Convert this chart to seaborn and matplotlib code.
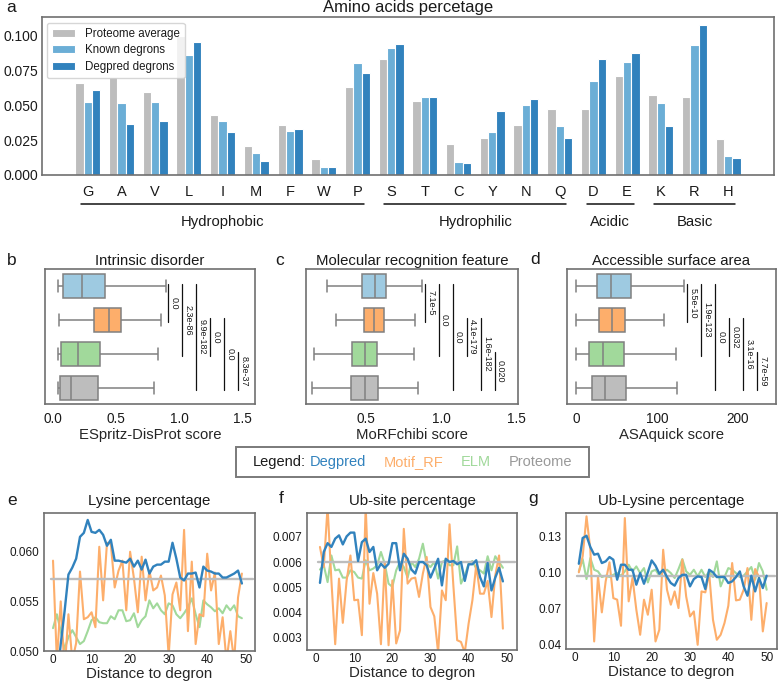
import numpy as np
import pandas as pd
import matplotlib
matplotlib.use('Agg')
import matplotlib.pyplot as plt
import matplotlib.transforms as mtransforms
from matplotlib.offsetbox import TextArea, HPacker, AnnotationBbox
from matplotlib.patches import Rectangle
from matplotlib.ticker import FormatStrFormatter
import seaborn as sns

# ---------------- data ----------------
aa = list("GAVLIMFWPSTCYNQDEKRH")
proteome_avg = [0.0655, 0.0698, 0.0593, 0.0993, 0.0429, 0.0207, 0.0360, 0.0114, 0.0626, 0.0829,
                0.0531, 0.0224, 0.0262, 0.0355, 0.0471, 0.0469, 0.0707, 0.0569, 0.0560, 0.0255]
known_degrons = [0.0524, 0.0517, 0.0520, 0.0860, 0.0388, 0.0157, 0.0312, 0.0055, 0.0798, 0.0905,
                 0.0560, 0.0093, 0.0307, 0.0502, 0.0348, 0.0671, 0.0807, 0.0514, 0.0929, 0.0136]
degpred_degrons = [0.0607, 0.0364, 0.0388, 0.0950, 0.0305, 0.0098, 0.0326, 0.0060, 0.0726, 0.0936,
                   0.0555, 0.0083, 0.0457, 0.0543, 0.0262, 0.0833, 0.0871, 0.0348, 0.1074, 0.0121]
bar_groups = ["Proteome average", "Known degrons", "Degpred degrons"]
bar_colors = ["#bdbdbd", "#6baed6", "#3182bd"]

aa_group_names = ["Hydrophobic", "Hydrophilic", "Acidic", "Basic"]
aa_group_first = ["G", "S", "D", "K"]
aa_group_last = ["P", "Q", "E", "H"]

methods = ["Degpred", "Motif_RF", "ELM", "Proteome"]
box_colors = ["#9ecae1", "#fdae6b", "#a1d99b", "#bdbdbd"]
text_colors = ["#3182bd", "#fdae6b", "#a1d99b", "#999999"]

# five-number summaries: whisker low, q1, median, q3, whisker high
disorder_stats = [[0.042, 0.077, 0.230, 0.407, 0.894],
                  [0.045, 0.323, 0.439, 0.534, 0.852],
                  [0.042, 0.063, 0.193, 0.368, 0.833],
                  [0.040, 0.055, 0.143, 0.352, 0.796]]
morf_stats = [[0.238, 0.476, 0.558, 0.633, 0.875],
              [0.300, 0.489, 0.556, 0.622, 0.827],
              [0.155, 0.409, 0.491, 0.573, 0.822],
              [0.138, 0.402, 0.493, 0.582, 0.845]]
asa_stats = [[0.4, 26.0, 43.0, 68.0, 134.0],
             [0.4, 28.0, 44.4, 60.0, 108.6],
             [0.0, 16.4, 33.3, 59.2, 123.0],
             [0.0, 19.3, 35.8, 61.7, 124.2]]
pairs = [(0, 1), (0, 2), (0, 3), (1, 2), (1, 3), (2, 3)]
disorder_p = ["0.0", "2.3e-86", "9.9e-182", "0.0", "0.0", "8.3e-37"]
morf_p = ["7.1e-5", "0.0", "0.0", "4.1e-179", "1.6e-182", "0.020"]
asa_p = ["5.5e-10", "1.9e-123", "0.0", "0.032", "3.1e-16", "7.7e-59"]

e_dist = list(range(0, 50))
e_degpred = [0.0440, 0.0470, 0.0507, 0.0540, 0.0577, 0.0584, 0.0593, 0.0615, 0.0619, 0.0632,
             0.0620, 0.0619, 0.0622, 0.0617, 0.0606, 0.0612, 0.0591, 0.0591, 0.0590, 0.0589,
             0.0593, 0.0585, 0.0591, 0.0582, 0.0592, 0.0578, 0.0585, 0.0587, 0.0587, 0.0590,
             0.0590, 0.0609, 0.0593, 0.0574, 0.0571, 0.0578, 0.0578, 0.0579, 0.0564, 0.0585,
             0.0581, 0.0580, 0.0578, 0.0578, 0.0574, 0.0574, 0.0576, 0.0578, 0.0581, 0.0568]
e_motif = [0.0591, 0.0490, 0.0550, 0.0480, 0.0537, 0.0490, 0.0508, 0.0580, 0.0532, 0.0534,
           0.0539, 0.0524, 0.0605, 0.0551, 0.0609, 0.0608, 0.0564, 0.0581, 0.0591, 0.0541,
           0.0600, 0.0573, 0.0539, 0.0595, 0.0551, 0.0581, 0.0561, 0.0564, 0.0576, 0.0556,
           0.0495, 0.0557, 0.0569, 0.0541, 0.0622, 0.0520, 0.0590, 0.0507, 0.0537, 0.0535,
           0.0598, 0.0561, 0.0579, 0.0507, 0.0534, 0.0490, 0.0520, 0.0490, 0.0554, 0.0578]
e_elm = [0.0523, 0.0537, 0.0520, 0.0502, 0.0514, 0.0521, 0.0514, 0.0507, 0.0510, 0.0520,
         0.0531, 0.0534, 0.0529, 0.0528, 0.0528, 0.0535, 0.0532, 0.0541, 0.0541, 0.0530,
         0.0531, 0.0538, 0.0524, 0.0531, 0.0535, 0.0551, 0.0543, 0.0548, 0.0541, 0.0537,
         0.0548, 0.0546, 0.0537, 0.0533, 0.0538, 0.0544, 0.0553, 0.0537, 0.0524, 0.0551,
         0.0547, 0.0544, 0.0540, 0.0543, 0.0538, 0.0546, 0.0541, 0.0546, 0.0535, 0.0533]
e_proteome = 0.0573

f_dist = list(range(1, 50))
f_degpred = [0.00517, 0.00640, 0.00675, 0.00660, 0.00693, 0.00706, 0.00670, 0.00702, 0.00717, 0.00717,
             0.00604, 0.00679, 0.00693, 0.00640, 0.00660, 0.00567, 0.00593, 0.00577, 0.00593, 0.00675,
             0.00675, 0.00567, 0.00633, 0.00613, 0.00570, 0.00554, 0.00600, 0.00600, 0.00587, 0.00538,
             0.00574, 0.00613, 0.00507, 0.00613, 0.00600, 0.00604, 0.00591, 0.00600, 0.00525, 0.00591,
             0.00591, 0.00607, 0.00540, 0.00503, 0.00596, 0.00487, 0.00538, 0.00577, 0.00523]
f_motif = [0.00660, 0.00580, 0.00820, 0.00527, 0.00273, 0.00534, 0.00358, 0.00527, 0.00626, 0.00448,
           0.00450, 0.00309, 0.00820, 0.00434, 0.00556, 0.00474, 0.00273, 0.00600, 0.00269, 0.00527,
           0.00276, 0.00328, 0.00732, 0.00514, 0.00534, 0.00538, 0.00461, 0.00554, 0.00620, 0.00421,
           0.00384, 0.00240, 0.00487, 0.00448, 0.00750, 0.00507, 0.00289, 0.00282, 0.00240, 0.00355,
           0.00448, 0.00587, 0.00474, 0.00474, 0.00525, 0.00381, 0.00547, 0.00626, 0.00335]
f_elm = [0.00570, 0.00587, 0.00520, 0.00626, 0.00567, 0.00570, 0.00538, 0.00538, 0.00567, 0.00560,
         0.00538, 0.00534, 0.00607, 0.00567, 0.00574, 0.00587, 0.00640, 0.00593, 0.00514, 0.00501,
         0.00567, 0.00600, 0.00580, 0.00538, 0.00600, 0.00580, 0.00613, 0.00673, 0.00593, 0.00580,
         0.00600, 0.00534, 0.00600, 0.00607, 0.00587, 0.00587, 0.00662, 0.00514, 0.00547, 0.00593,
         0.00604, 0.00574, 0.00567, 0.00554, 0.00623, 0.00567, 0.00623, 0.00600, 0.00577]
f_proteome = 0.00600

g_dist = list(range(1, 51))
g_degpred = [0.1072, 0.1287, 0.1306, 0.1212, 0.1148, 0.1156, 0.1078, 0.1092, 0.1128, 0.1106,
             0.0939, 0.1064, 0.1064, 0.1022, 0.1022, 0.0897, 0.0994, 0.0905, 0.1000, 0.1100,
             0.1056, 0.0989, 0.1022, 0.0961, 0.0911, 0.0889, 0.0953, 0.0980, 0.0980, 0.0883,
             0.0944, 0.0967, 0.0961, 0.0861, 0.1022, 0.1000, 0.0961, 0.0961, 0.0961, 0.0911,
             0.0925, 0.0961, 0.1008, 0.0883, 0.0805, 0.0972, 0.0841, 0.0953, 0.0869, 0.0972]
g_motif = [0.1000, 0.1134, 0.1468, 0.1189, 0.0423, 0.0967, 0.0666, 0.0925, 0.1084, 0.0785,
           0.0772, 0.0554, 0.1454, 0.0758, 0.0953, 0.0688, 0.0479, 0.0772, 0.0646, 0.0855,
           0.0423, 0.0521, 0.1189, 0.0855, 0.0730, 0.0841, 0.0702, 0.1106, 0.0799, 0.0632,
           0.0674, 0.0395, 0.0841, 0.0833, 0.0994, 0.0604, 0.0437, 0.0479, 0.0577, 0.0721,
           0.1078, 0.0766, 0.0772, 0.0855, 0.1036, 0.0604, 0.1028, 0.0961, 0.0507, 0.0744]
g_elm = [0.1008, 0.1111, 0.0944, 0.1120, 0.1022, 0.1008, 0.0961, 0.0972, 0.0961, 0.0980,
         0.0994, 0.0972, 0.1008, 0.1064, 0.1008, 0.1050, 0.0994, 0.1036, 0.0916, 0.1008,
         0.1022, 0.0972, 0.1008, 0.1022, 0.0994, 0.0953, 0.1028, 0.1111, 0.1008, 0.0980,
         0.1022, 0.0967, 0.1022, 0.0961, 0.1008, 0.0961, 0.1092, 0.0883, 0.0961, 0.1036,
         0.1022, 0.0994, 0.0961, 0.0972, 0.1008, 0.1045, 0.0939, 0.1078, 0.1008, 0.0855]
g_proteome = 0.0972

# ---------------- style ----------------
sns.set_style('white')
plt.rcParams['font.family'] = ['Liberation Sans', 'DejaVu Sans']
plt.rcParams['text.color'] = '#1a1a1a'
plt.rcParams['xtick.color'] = '#1a1a1a'
plt.rcParams['ytick.color'] = '#1a1a1a'

W, H = 780, 683
fig = plt.figure(figsize=(W / 100, H / 100), dpi=100)


def add_ax(x0, y0, x1, y1):
    return fig.add_axes([x0 / W, 1 - y1 / H, (x1 - x0) / W, (y1 - y0) / H])


def frame(ax):
    for s in ax.spines.values():
        s.set_visible(True)
        s.set_color('#707070')
        s.set_linewidth(1.2)


def panel_label(x, y, s):
    fig.text(x / W, 1 - y / H, s, fontsize=12.5, va='baseline', ha='left')


# ---------------- panel a ----------------
axa = add_ax(42, 17, 774, 175)
df_a = pd.DataFrame({
    'aa': aa * 3,
    'pct': proteome_avg + known_degrons + degpred_degrons,
    'group': [bar_groups[0]] * len(aa) + [bar_groups[1]] * len(aa) + [bar_groups[2]] * len(aa),
})
sns.barplot(data=df_a, x='aa', y='pct', hue='group', order=aa, hue_order=bar_groups,
            palette=bar_colors, saturation=1, width=0.74, edgecolor='white', linewidth=0.8,
            errorbar=None, ax=axa)
axa.set_xlim(-1.36, 20.36)
axa.set_ylim(0, 0.113)
axa.set_yticks([0, 0.025, 0.05, 0.075, 0.1])
axa.yaxis.set_major_formatter(FormatStrFormatter('%.3f'))
axa.set_xlabel('')
axa.set_ylabel('')
axa.tick_params(axis='x', length=0, pad=7, labelsize=10.5)
axa.tick_params(axis='y', length=0, pad=2.5, labelsize=10)
axa.set_title('Amino acids percetage', fontsize=12, pad=3.5)
frame(axa)
h, l = axa.get_legend_handles_labels()
axa.legend(h, l, loc='upper left', bbox_to_anchor=(0.007, 0.964), borderaxespad=0,
           fontsize=8.3, frameon=True, edgecolor='#cccccc', labelspacing=0.4,
           handlelength=2.0, handletextpad=0.8, borderpad=0.45, fancybox=True)

xa_trans = axa.get_xaxis_transform()
for name, first, last in zip(aa_group_names, aa_group_first, aa_group_last):
    i0 = aa.index(first) - 0.2
    i1 = aa.index(last) + 0.2
    axa.plot([i0, i1], [-0.184, -0.184], transform=xa_trans, color='#111111', lw=1.1, clip_on=False)
    axa.text((i0 + i1) / 2, -0.30, name, transform=xa_trans, ha='center', va='center', fontsize=10.7)
panel_label(6, 12, 'a')


# ---------------- panels b-d ----------------
def box_panel(ax, stats, pvals, xlim, xticks, xlabel, title, fmt):
    vals, grp = [], []
    for m, st in zip(methods, stats):
        vals += st
        grp += [m] * len(st)
    df = pd.DataFrame({'score': vals, 'method': grp})
    sns.boxplot(data=df, x='score', y='method', hue='method', order=methods, hue_order=methods,
                palette=box_colors, saturation=1, whis=(0, 100), width=0.68, linecolor='#808080',
                linewidth=1.1, legend=False, ax=ax)
    ax.set_xlim(*xlim)
    ax.set_ylim(3.47, -0.5)
    ax.set_xticks(xticks)
    ax.xaxis.set_major_formatter(FormatStrFormatter(fmt))
    ax.set_yticks([])
    ax.set_ylabel('')
    ax.set_xlabel(xlabel, fontsize=10.7, labelpad=2)
    ax.tick_params(axis='x', length=0, pad=5.5, labelsize=9.8)
    ax.set_title(title, fontsize=10.7, pad=3)
    frame(ax)
    xmax = max(st[-1] for st in stats)
    for k, ((i, j), p) in enumerate(zip(pairs, pvals)):
        tl = ax.transData + mtransforms.ScaledTranslation((2.5 + 14 * k) / 100, 0, fig.dpi_scale_trans)
        tt = ax.transData + mtransforms.ScaledTranslation((3.8 + 14 * k) / 100, 0, fig.dpi_scale_trans)
        ax.plot([xmax, xmax], [i - 0.05, j + 0.05], transform=tl, color='#111111', lw=0.9,
                clip_on=False)
        ax.text(xmax, (i + j) / 2, p, transform=tt, rotation=270, ha='left', va='center',
                fontsize=6.5)


axb = add_ax(45, 269, 255, 404)
box_panel(axb, disorder_stats, disorder_p, (-0.065, 1.60), [0, 0.5, 1.0, 1.5],
          'ESpritz-DisProt score', 'Intrinsic disorder', '%.1f')
axc = add_ax(306, 269, 518, 404)
box_panel(axc, morf_stats, morf_p, (0.10, 1.513), [0.5, 1.0, 1.5],
          'MoRFchibi score', 'Molecular recognition feature', '%.1f')
axd = add_ax(567, 269, 776, 404)
box_panel(axd, asa_stats, asa_p, (-11, 247), [0, 100, 200],
          'ASAquick score', 'Accessible surface area', '%d')
panel_label(7, 265, 'b')
panel_label(275, 265, 'c')
panel_label(530, 264, 'd')

# ---------------- middle legend ----------------
fig.add_artist(Rectangle((236 / W, 1 - 477 / H), (589 - 236) / W, 30 / H,
                         transform=fig.transFigure, fill=False, edgecolor='#7a7a7a', lw=1.4))
t_leg = TextArea('Legend:', textprops=dict(color='#1a1a1a', fontsize=10.5))
t_items = [TextArea(m, textprops=dict(color=c, fontsize=10.5)) for m, c in zip(methods, text_colors)]
inner = HPacker(children=[t_leg, t_items[0]], sep=3, pad=0, align='baseline')
outer = HPacker(children=[inner] + t_items[1:], sep=12.5, pad=0, align='baseline')
ab = AnnotationBbox(outer, (412.5 / W, 1 - 462 / H), xycoords='figure fraction',
                    frameon=False, box_alignment=(0.5, 0.5), pad=0, annotation_clip=False)
axa.add_artist(ab)


# ---------------- panels e-g ----------------
def line_panel(ax, dist, deg, motif, elm, prot, xlim, ylim, yticks, fmt, title):
    sns.lineplot(x=dist, y=elm, color='#a1d99b', lw=1.5, ax=ax)
    sns.lineplot(x=dist, y=motif, color='#fdae6b', lw=1.5, ax=ax)
    ax.axhline(prot, xmin=(dist[0] - 0.4 - xlim[0]) / (xlim[1] - xlim[0]), xmax=0.99,
               color='#bdbdbd', lw=1.7)
    sns.lineplot(x=dist, y=deg, color='#3182bd', lw=1.7, ax=ax)
    ax.set_xlim(*xlim)
    ax.set_ylim(*ylim)
    ax.set_xticks([0, 10, 20, 30, 40, 50])
    ax.set_yticks(yticks)
    ax.yaxis.set_major_formatter(FormatStrFormatter(fmt))
    ax.tick_params(axis='x', length=0, pad=2, labelsize=8.5)
    ax.tick_params(axis='y', length=0, pad=3.5, labelsize=8.5)
    ax.set_xlabel('Distance to degron', fontsize=10.8, labelpad=1)
    ax.set_ylabel('')
    ax.set_title(title, fontsize=10.8, pad=5.5)
    frame(ax)


axe = add_ax(44, 513, 255, 651)
line_panel(axe, e_dist, e_degpred, e_motif, e_elm, e_proteome, (-2.34, 52.4),
           (0.050, 0.0639), [0.050, 0.055, 0.060], '%.3f', 'Lysine percentage')
axf = add_ax(307, 513, 517, 650)
line_panel(axf, f_dist, f_degpred, f_motif, f_elm, f_proteome, (-2.4, 52.7),
           (0.0025, 0.00795), [0.003, 0.004, 0.005, 0.006, 0.007], '%.3f', 'Ub-site percentage')
axg = add_ax(566, 513, 777, 649)
line_panel(axg, g_dist, g_degpred, g_motif, g_elm, g_proteome, (-2.35, 52.7),
           (0.036, 0.1496), [0.04, 0.07, 0.10, 0.13], '%.2f', 'Ub-Lysine percentage')
panel_label(7, 505, 'e')
panel_label(279, 503, 'f')
panel_label(528, 503, 'g')

fig.savefig('out.png', dpi=100)
